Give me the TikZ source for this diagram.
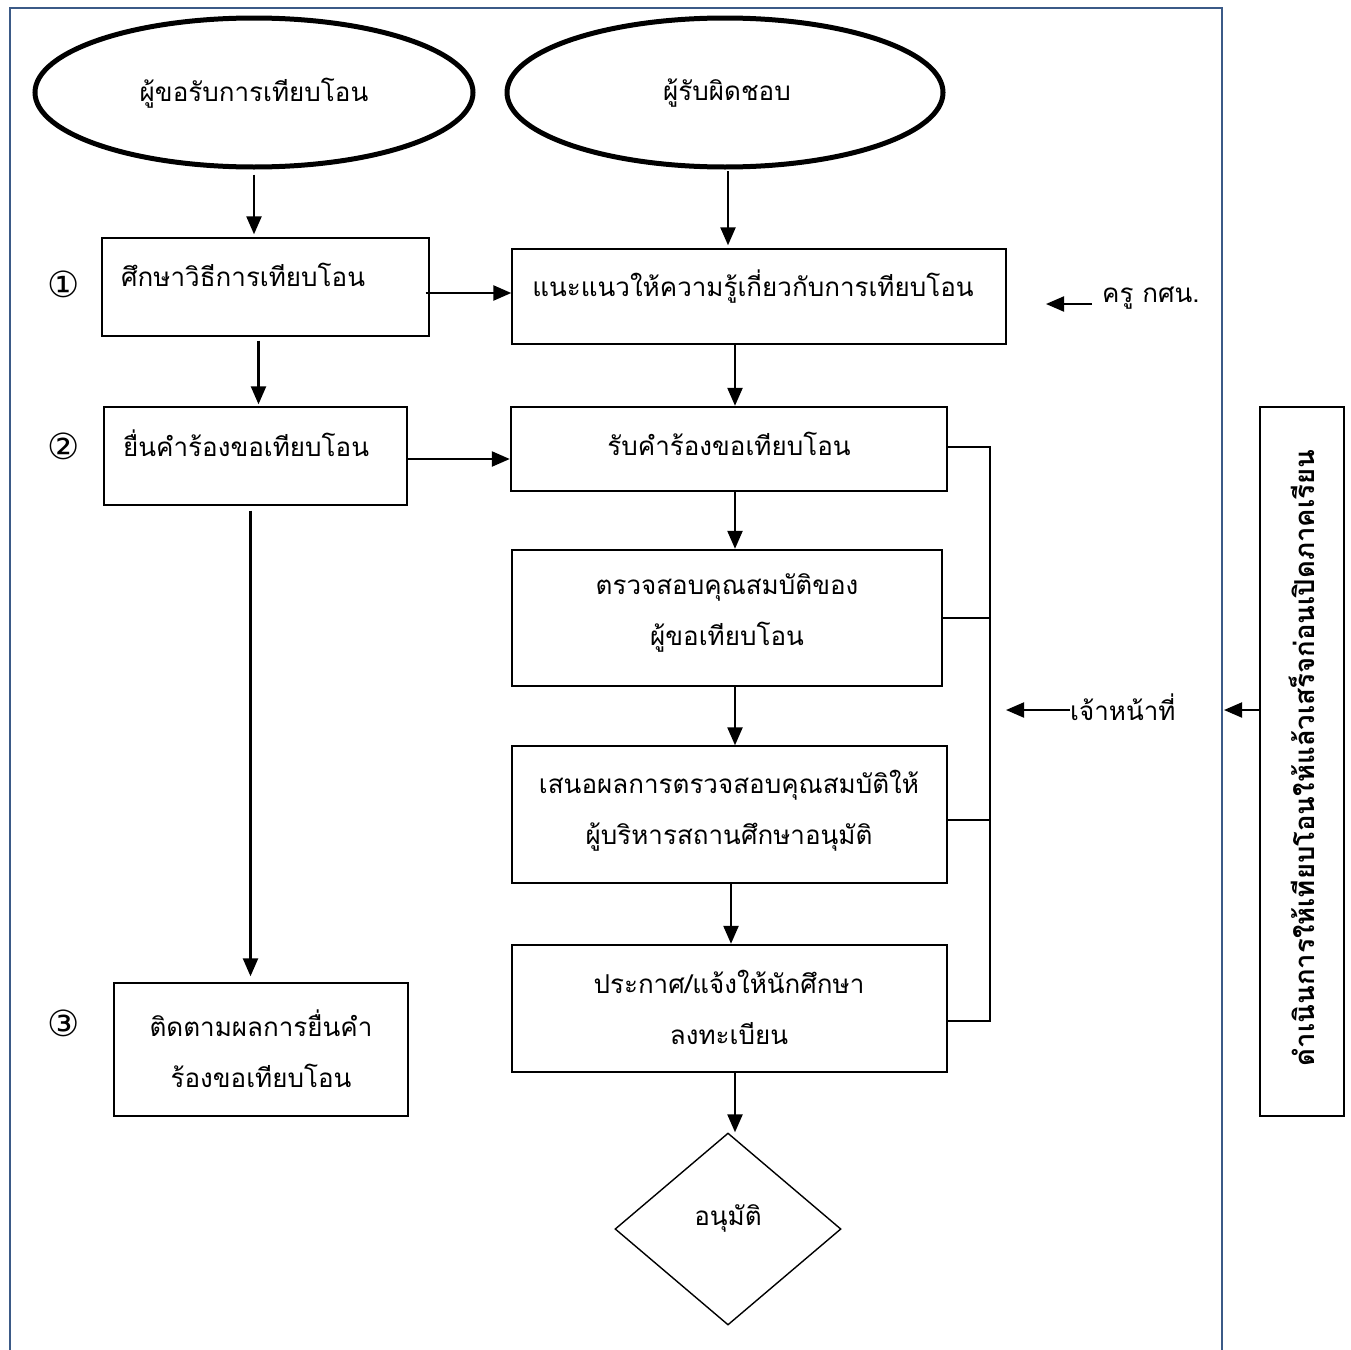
\documentclass[tikz,border=0pt]{standalone}
\usepackage{fontspec}
\usetikzlibrary{arrows.meta,shapes.geometric,calc}
\newfontfamily\thai[Script=Thai]{Loma}
\newfontfamily\sym{DejaVu Sans}
\definecolor{frameblue}{HTML}{3B5A87}
\tikzset{
  txt/.style={font=\thai\fontsize{26}{51}\selectfont, inner sep=0pt, align=center},
  num/.style={font=\sym\fontsize{36}{38}\selectfont, inner sep=0pt},
  boxthin/.style={draw, line width=1.4pt, rectangle, inner sep=0pt},
  boxthick/.style={draw, line width=2.4pt, rectangle, inner sep=0pt},
  oval/.style={draw, ellipse, line width=5pt, inner sep=0pt},
  arr/.style={line width=2.4pt, -{Triangle[length=18pt,width=15pt]}},
  brk/.style={line width=2pt},
}
\begin{document}
\begin{tikzpicture}[x=1pt,y=-1pt]
\useasboundingbox (0,0) rectangle (1351,1349);
\draw[frameblue, line width=2pt] (10,1360) -- (10,8) -- (1222,8) -- (1222,1360);
\coordinate (fr) at (1222,710);

% ovals
\node[oval, minimum width=438, minimum height=149] (e1) at (254,92.5) {};
\node[txt] (e1t) at (254,93) {ผู้ขอรับการเทียบโอน};
\node[oval, minimum width=436, minimum height=149] (e2) at (725,92.5) {};
\node[txt] (e2t) at (727,93) {ผู้รับผิดชอบ};

% boxes
\node[boxthin, minimum width=327, minimum height=98] (b1) at (265.5,287) {};
\node[txt, anchor=west] (b1t) at (121,275) {ศึกษาวิธีการเทียบโอน};
\node[boxthin, minimum width=494, minimum height=95] (b2) at (759,296.5) {};
\node[txt] (b2t) at (753,287) {แนะแนวให้ความรู้เกี่ยวกับการเทียบโอน};
\node[boxthin, minimum width=303, minimum height=98] (b3) at (255.5,456) {};
\node[txt, anchor=west] (b3t) at (123,443) {ยื่นคำร้องขอเทียบโอน};
\node[boxthick, minimum width=436, minimum height=84] (b4) at (729,449) {};
\node[txt] (b4t) at (729,444) {รับคำร้องขอเทียบโอน};
\node[boxthick, minimum width=430, minimum height=136] (b5) at (727,618) {};
\node[txt] (b5t) at (727,613) {ตรวจสอบคุณสมบัติของ\\ผู้ขอเทียบโอน};
\node[boxthin, minimum width=435, minimum height=137] (b6) at (729.5,814.5) {};
\node[txt] (b6t) at (729,811) {เสนอผลการตรวจสอบคุณสมบัติให้\\ผู้บริหารสถานศึกษาอนุมัติ};
\node[boxthick, minimum width=435, minimum height=127] (b7) at (729.5,1008.5) {};
\node[txt] (b7t) at (729,1007) {ประกาศ/แจ้งให้นักศึกษา\\ลงทะเบียน};
\node[boxthin, minimum width=294, minimum height=133] (b8) at (261,1049.5) {};
\node[txt] (b8t) at (261,1049) {ติดตามผลการยื่นคำ\\ร้องขอเทียบโอน};
\node[draw, diamond, line width=1.4pt, inner sep=0pt, minimum width=226, minimum height=192] (d) at (728,1229) {};
\node[txt] (dt) at (728,1218) {อนุมัติ};

% right box
\node[boxthick, minimum width=84, minimum height=709] (vb) at (1302,761.5) {};
\node[txt, rotate=90, font=\thai\bfseries\fontsize{27.5}{30}\selectfont] (vbt) at (1302,758) {ดำเนินการให้เทียบโอนให้แล้วเสร็จก่อนเปิดภาคเรียน};

% numbers
\node[num] (n1) at (64,284) {①};
\node[num] (n2) at (64,446) {②};
\node[num] (n3) at (64,1023) {③};

% side labels
\node[txt, anchor=west] (kru) at (1102,298) {ครู กศน.};
\coordinate (kruend) at (1046,304);
\draw[arr, line width=2pt] ($(kru.west |- kruend)+(-10,0)$) -- (kruend);
\node[txt, anchor=west] (staff) at (1070,707) {เจ้าหน้าที่};
\coordinate (staffend) at (1006,710);
\draw[arr, line width=2pt] (staff.west |- staffend) -- (staffend);
\draw[arr, line width=2pt] (vb.west |- fr) -- ($(fr)+(2,0)$);

% arrows
\draw[arr, shorten >=3pt] ($(e1.south)+(0,5)$) coordinate (e1a) -- (e1a |- b1.north);
\draw[arr, shorten >=3pt] ($(b2.north)+(-31,-77)$) coordinate (e2a) -- (e2a |- b2.north);
\draw[arr] ($(b1.east)+(-4,6)$) coordinate (b1b) -- (b1b -| b2.west);
\draw[arr, shorten >=2pt] ($(b1.south)+(-7,4)$) coordinate (b1a) -- (b1a |- b3.north);
\draw[arr] ($(b2.south)+(-24,0)$) coordinate (b2a) -- (b2a |- b4.north);
\draw[arr] ($(b3.east)+(0,3)$) coordinate (b3a) -- (b3a -| b4.west);
\draw[arr, shorten >=6pt] ($(b3.south)+(-5,5)$) coordinate (b3b) -- (b3b |- b8.north);
\draw[arr] ($(b4.south)+(6,0)$) coordinate (b4a) -- (b4a |- b5.north);
\draw[arr] ($(b5.south)+(8,0)$) coordinate (b5a) -- (b5a |- b6.north);
\draw[arr] ($(b6.south)+(1.5,0)$) coordinate (b6a) -- (b6a |- b7.north);
\draw[arr] ($(b7.south)+(5.5,0)$) coordinate (b7a) -- (b7a |- d.north);

% bracket
\coordinate (bx) at (990,447);
\coordinate (b4e) at ($(b4.east)+(0,-2)$);
\coordinate (b7e) at ($(b7.east)+(0,12.5)$);
\draw[brk] (b4e) -- (b4e -| bx) -- (bx |- b7e) -- (b7e);
\draw[brk] (b5.east) -- (b5.east -| bx);
\draw[brk] ($(b6.east)+(0,5.5)$) coordinate (b6e) -- (b6e -| bx);
\end{tikzpicture}
\end{document}
